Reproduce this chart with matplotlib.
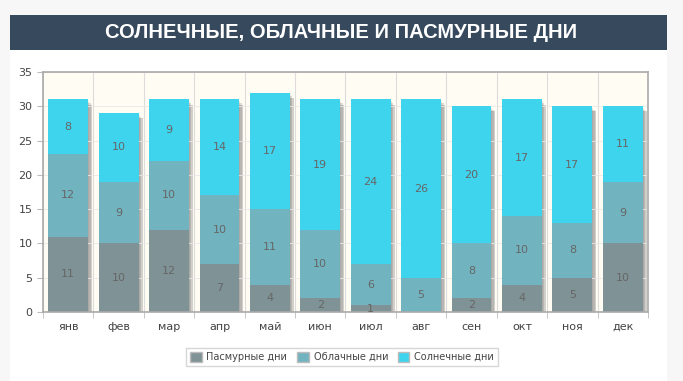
import numpy as np
import matplotlib
matplotlib.use("Agg")
import matplotlib.pyplot as plt
from matplotlib.patches import Rectangle

# Data
months = ["янв", "фев", "мар", "апр", "май", "июн", "июл", "авг", "сен", "окт", "ноя", "дек"]
overcast = [11, 10, 12, 7, 4, 2, 1, 0, 2, 4, 5, 10]
cloudy = [12, 9, 10, 10, 11, 10, 6, 5, 8, 10, 8, 9]
sunny = [8, 10, 9, 14, 17, 19, 24, 26, 20, 17, 17, 11]
series_names = ["Пасмурные дни", "Облачные дни", "Солнечные дни"]
colors = ["#7f9396", "#72b3c0", "#3fd4ee"]
title = "СОЛНЕЧНЫЕ, ОБЛАЧНЫЕ И ПАСМУРНЫЕ ДНИ"

W, H = 683, 381
fig = plt.figure(figsize=(W / 100, H / 100), dpi=100)
fig.patch.set_facecolor("#f7f7f7")

# white card + title bar
fig.add_artist(Rectangle((10 / W, 0), 657 / W, 1 - 15 / H, transform=fig.transFigure,
                         facecolor="white", edgecolor="none", zorder=0))
fig.add_artist(Rectangle((10 / W, 1 - 50 / H), 657 / W, 35 / H, transform=fig.transFigure,
                         facecolor="#36495d", edgecolor="none", zorder=1))
fig.text(341 / W, 1 - 33 / H, title, color="white", fontsize=14.5, fontweight="bold",
         family="Liberation Sans", ha="center", va="center")

# plot area
left, right, top, bottom = 43, 648, 72, 312
ax = fig.add_axes([left / W, 1 - bottom / H, (right - left) / W, (bottom - top) / H])
ax.set_facecolor("#fffcf4")

x = np.arange(len(months))
data = [overcast, cloudy, sunny]
totals = np.sum(data, axis=0)
width = 0.79

# shadows
for i in range(len(months)):
    for k, a in enumerate([0.12, 0.18, 0.25]):
        off = 0.02 + k * 0.03
        ax.add_patch(Rectangle((x[i] - width / 2 + off, 0), width, totals[i] - 0.25 * (k + 1),
                               facecolor="#4a4a4a", alpha=a, edgecolor="none", zorder=1))

bottoms = np.zeros(len(months))
for vals, name, c in zip(data, series_names, colors):
    ax.bar(x, vals, width, bottom=bottoms, color=c, label=name, zorder=2)
    for xi, v, b in zip(x, vals, bottoms):
        if v > 0:
            ax.text(xi, b + v / 2, str(v), ha="center", va="center", fontsize=8,
                    color="#666666", zorder=3)
    bottoms = bottoms + np.array(vals)

ax.set_xlim(-0.5, len(months) - 0.5)
ax.set_ylim(0, 35)
ax.set_yticks(range(0, 36, 5))
ax.set_xticks(x)
ax.set_xticklabels(months)
ax.set_xticks(np.arange(-0.5, len(months), 1), minor=True)
ax.grid(True, which="minor", axis="x", color="#dcdcdc", lw=0.8, zorder=0)
ax.grid(True, which="major", axis="y", color="#e8e8e8", lw=0.6, zorder=0)
ax.tick_params(axis="x", which="major", length=0, labelsize=8, colors="#444444", pad=7)
ax.tick_params(axis="x", which="minor", length=4, color="#bbbbbb")
ax.tick_params(axis="y", length=4, labelsize=8, colors="#444444", color="#bbbbbb")
for s in ax.spines.values():
    s.set_color("#aaaaaa")
    s.set_linewidth(1.2)

leg = fig.legend(loc="center", bbox_to_anchor=(342 / W, 1 - 357 / H), ncol=3, fontsize=7,
                 frameon=True, fancybox=False, edgecolor="#cccccc", handlelength=1.2,
                 handleheight=1.2, columnspacing=1.0, handletextpad=0.5, borderpad=0.4)
for t in leg.get_texts():
    t.set_color("#444444")
for h in leg.legend_handles:
    h.set_edgecolor("#bbbbbb")

fig.savefig("out.png", dpi=100, facecolor=fig.get_facecolor())
